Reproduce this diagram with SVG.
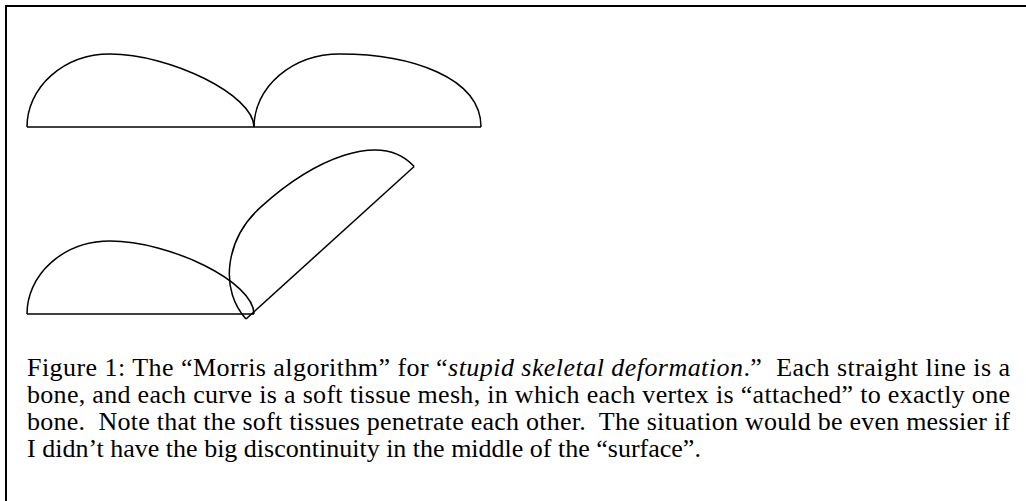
<svg xmlns="http://www.w3.org/2000/svg" width="1026" height="501" viewBox="0 0 1026 501">
<style>
.frame{fill:none;stroke:#000;stroke-width:2}
.tissue{fill:none;stroke:#000;stroke-width:1.5}
.bone{stroke:#000;stroke-width:1.5;fill:none}
.cap{font-family:"Liberation Serif","Times New Roman",serif;font-size:26px;fill:#000}
.it{font-style:italic}
</style>
<defs>
<path id="tA" d="M0,0 A83,73 0 0 1 83,-73 C143,-73 227,-32 227,0"/>
<path id="tB" d="M0,0 A86,73 0 0 1 86,-73 C156,-73 227,-50 227,0"/>
</defs>
<rect class="frame" x="6" y="6" width="1100" height="600"/>
<g id="segment-top-left" transform="translate(27,127)">
<use href="#tA" class="tissue"/>
<line class="bone" x1="0" y1="0" x2="227" y2="0"/>
</g>
<g id="segment-top-right" transform="translate(254,127)">
<use href="#tB" class="tissue"/>
<line class="bone" x1="0" y1="0" x2="227" y2="0"/>
</g>
<g id="segment-bottom-left" transform="translate(27,314)">
<use href="#tA" class="tissue"/>
<line class="bone" x1="0" y1="0" x2="227" y2="0"/>
</g>
<g id="segment-bottom-rotated" transform="translate(246,319) rotate(-42.2)">
<use href="#tB" class="tissue"/>
<line class="bone" x1="0" y1="0" x2="227" y2="0"/>
</g>
<g id="caption" class="cap">
<text xml:space="preserve" x="27" y="376" textLength="983" lengthAdjust="spacing">Figure 1: The “Morris algorithm” for “<tspan class="it">stupid skeletal deformation</tspan>.”  Each straight line is a</text>
<text xml:space="preserve" x="27" y="403" textLength="983" lengthAdjust="spacing">bone, and each curve is a soft tissue mesh, in which each vertex is “attached” to exactly one</text>
<text xml:space="preserve" x="27" y="430" textLength="983" lengthAdjust="spacing">bone.  Note that the soft tissues penetrate each other.  The situation would be even messier if</text>
<text xml:space="preserve" x="27" y="457">I didn’t have the big discontinuity in the middle of the “surface”.</text>
</g>
</svg>
